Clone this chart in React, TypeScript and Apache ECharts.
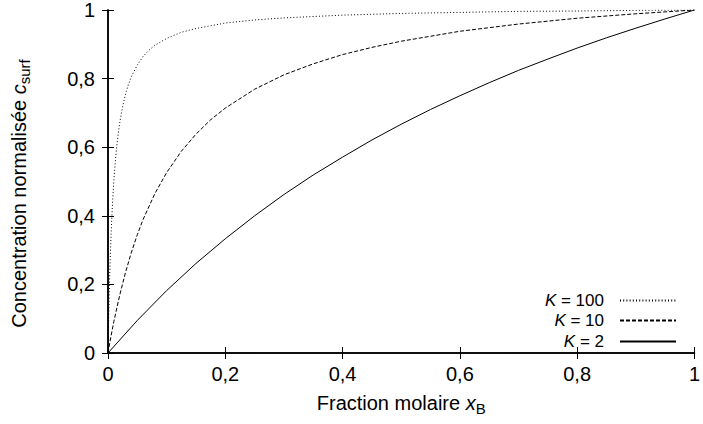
import React, { useEffect, useRef } from "react";
import * as echarts from "echarts";

// Values (x = molar fraction, y = normalised concentration)
const xK100 = [0, 0.001, 0.002, 0.003, 0.004, 0.005, 0.006, 0.008, 0.01, 0.0125, 0.015, 0.0175, 0.02, 0.025, 0.03, 0.035, 0.04, 0.05, 0.06, 0.07, 0.08, 0.1, 0.125, 0.15, 0.2, 0.25, 0.3, 0.4, 0.5, 0.6, 0.7, 0.8, 0.9, 1];
const yK100 = [0, 0.091, 0.167, 0.231, 0.287, 0.334, 0.376, 0.446, 0.503, 0.559, 0.604, 0.640, 0.671, 0.719, 0.756, 0.784, 0.806, 0.840, 0.865, 0.883, 0.897, 0.917, 0.935, 0.946, 0.962, 0.971, 0.977, 0.985, 0.990, 0.993, 0.996, 0.997, 0.999, 1];

const xK10 = [0, 0.005, 0.01, 0.02, 0.03, 0.04, 0.05, 0.06, 0.08, 0.1, 0.125, 0.15, 0.175, 0.2, 0.25, 0.3, 0.35, 0.4, 0.45, 0.5, 0.6, 0.7, 0.8, 0.9, 1];
const yK10 = [0, 0.048, 0.092, 0.169, 0.236, 0.294, 0.345, 0.390, 0.465, 0.526, 0.588, 0.638, 0.680, 0.714, 0.769, 0.811, 0.843, 0.870, 0.891, 0.909, 0.938, 0.959, 0.976, 0.989, 1];

const xK2 = [0, 0.05, 0.1, 0.15, 0.2, 0.25, 0.3, 0.35, 0.4, 0.45, 0.5, 0.55, 0.6, 0.65, 0.7, 0.75, 0.8, 0.85, 0.9, 0.95, 1];
const yK2 = [0, 0.095, 0.182, 0.261, 0.333, 0.400, 0.462, 0.519, 0.571, 0.621, 0.667, 0.710, 0.750, 0.788, 0.824, 0.857, 0.889, 0.919, 0.947, 0.974, 1];

const seriesNames = ["K = 100", "K = 10", "K = 2"];

const FONT = "Liberation Sans";

function zip(xs: number[], ys: number[]) {
  return xs.map((x, i) => [x, ys[i]]);
}

const fmt = (v: number) => (v === 0 || v === 1 ? String(v) : v.toFixed(1).replace(".", ","));

export default function App() {
  const ref = useRef<HTMLDivElement>(null);
  useEffect(() => {
    if (!ref.current) return;
    const chart = echarts.init(ref.current, undefined, { renderer: "svg" });
    const axisLine = { show: true, lineStyle: { color: "#000", width: 1.5 } };
    const axisTick = { show: true, inside: true, length: 6, lineStyle: { color: "#000", width: 1 } };
    const legendBase = {
      orient: "horizontal",
      align: "right",
      right: 21,
      itemWidth: 56,
      itemHeight: 10,
      itemGap: 6,
      itemStyle: { opacity: 0 },
      textStyle: {
        fontFamily: FONT,
        fontSize: 17,
        color: "#000",
        rich: {
          i: { fontStyle: "italic", fontFamily: FONT, fontSize: 17, color: "#000" },
          g: { width: 11 },
        },
      },
      formatter: (name: string) => name.replace("K", "{i|K}") + "{g|}",
    };
    const richName = {
      i: { fontStyle: "italic", fontSize: 20, fontFamily: FONT, color: "#000" },
      sub: { fontSize: 15, fontFamily: FONT, color: "#000", padding: [12, 0, 0, 0] },
    };
    chart.setOption({
      animation: false,
      backgroundColor: "#fff",
      textStyle: { fontFamily: FONT },
      grid: { left: 108, right: 5, top: 10, bottom: 71, containLabel: false },
      legend: [
        { ...legendBase, data: [seriesNames[0]], top: 287 },
        { ...legendBase, data: [seriesNames[1]], top: 307 },
        { ...legendBase, data: [seriesNames[2]], top: 328 },
      ],
      xAxis: [
        {
          type: "value",
          min: 0,
          max: 1,
          interval: 0.2,
          axisLine,
          axisTick,
          splitLine: { show: false },
          axisLabel: { formatter: fmt, fontSize: 20, color: "#000", fontFamily: FONT, margin: 11 },
          name: "Fraction molaire {i|x}{sub|B}",
          nameLocation: "middle",
          nameGap: 36,
          nameTextStyle: { fontFamily: FONT, fontSize: 20, color: "#000", rich: richName },
        },
        {
          type: "value",
          position: "top",
          min: 0,
          max: 1,
          interval: 0.2,
          axisLine,
          axisTick,
          splitLine: { show: false },
          axisLabel: { show: false },
        },
      ],
      yAxis: [
        {
          type: "value",
          min: 0,
          max: 1,
          interval: 0.2,
          axisLine,
          axisTick,
          splitLine: { show: false },
          axisLabel: { formatter: fmt, fontSize: 20, color: "#000", fontFamily: FONT, margin: 13 },
          name: "Concentration normalisée {i|c}{sub|surf}",
          nameLocation: "middle",
          nameGap: 76,
          nameTextStyle: {
            fontFamily: FONT,
            fontSize: 20,
            color: "#000",
            padding: [0, 24, 0, 0],
            rich: richName,
          },
        },
        {
          type: "value",
          position: "right",
          min: 0,
          max: 1,
          interval: 0.2,
          axisLine,
          axisTick,
          splitLine: { show: false },
          axisLabel: { show: false },
        },
      ],
      series: [
        {
          name: seriesNames[0],
          type: "line",
          data: zip(xK100, yK100),
          showSymbol: false,
          symbol: "none",
          lineStyle: { color: "#000", width: 1, type: [1, 2.2] },
          itemStyle: { color: "#000" },
        },
        {
          name: seriesNames[1],
          type: "line",
          data: zip(xK10, yK10),
          showSymbol: false,
          symbol: "none",
          lineStyle: { color: "#000", width: 1, type: [4, 2] },
          itemStyle: { color: "#000" },
        },
        {
          name: seriesNames[2],
          type: "line",
          data: zip(xK2, yK2),
          showSymbol: false,
          symbol: "none",
          lineStyle: { color: "#000", width: 1, type: "solid" },
          itemStyle: { color: "#000" },
        },
      ],
    });
    return () => chart.dispose();
  }, []);
  return <div ref={ref} style={{ width: 703, height: 424, position: "absolute", left: 0, top: 0 }} />;
}
